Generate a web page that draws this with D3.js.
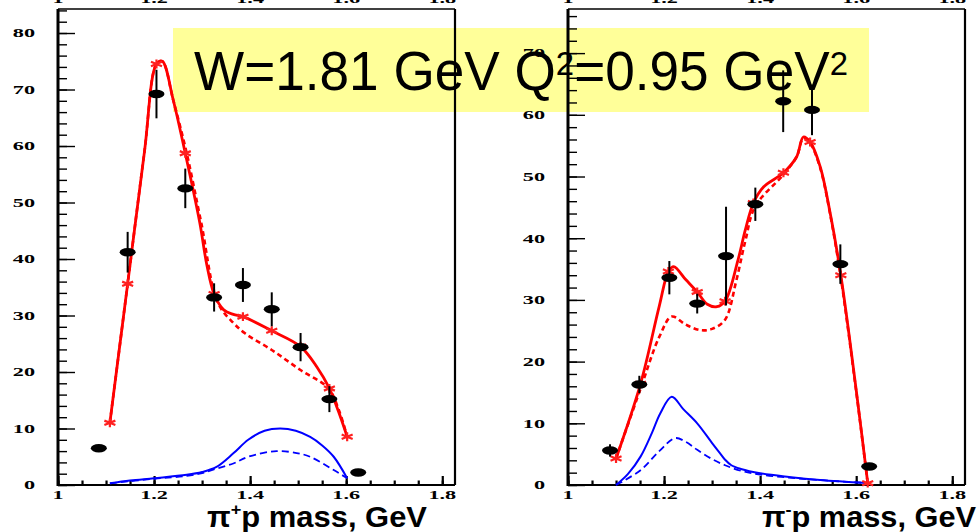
<!DOCTYPE html>
<html><head><meta charset="utf-8">
<script src="https://cdn.jsdelivr.net/npm/d3@7"></script>
<style>body{margin:0;background:#fff}svg{display:block}</style>
</head><body><svg id="c" width="977" height="532"></svg>
<script>
// ---------- tick labels ----------
const xTickValues = [1, 1.2, 1.4, 1.6, 1.8];
const xTickLabels = ["1", "1.2", "1.4", "1.6", "1.8"];
const yTicksLeft = [0, 10, 20, 30, 40, 50, 60, 70, 80];
const yTicksRight = [0, 10, 20, 30, 40, 50, 60, 70];
const titleText = ["W=1.81 GeV Q", "2", "=0.95 GeV", "2"];

// ---------- left panel: pi+ p ----------
const massL = [1.085, 1.145, 1.205, 1.265, 1.325, 1.385, 1.445, 1.505, 1.565, 1.625];
const dataL = [6.5, 41.2, 69.2, 52.5, 33.2, 35.4, 31.1, 24.4, 15.2, 2.2];
const errL = [0.5, 3.6, 4.3, 3.5, 2.5, 3.0, 3.0, 2.5, 2.3, 0.4];
const starMassL = [1.108, 1.145, 1.205, 1.265, 1.325, 1.385, 1.445, 1.505, 1.565, 1.602];
const starL = [11.0, 35.6, 74.5, 58.7, 33.8, 29.8, 27.3, 24.5, 17.1, 8.55];
const redSolidMassL = [1.108, 1.145, 1.18, 1.205, 1.217, 1.24, 1.265, 1.295, 1.31, 1.325, 1.345, 1.365, 1.385, 1.445, 1.505, 1.539, 1.565, 1.584, 1.602];
const redSolidL = [11.0, 35.6, 59, 74.5, 75.0, 68.1, 58.7, 46.5, 38.9, 33.8, 31.0, 30.2, 29.8, 27.3, 24.5, 20.9, 17.1, 13.0, 8.55];
const redDashMassL = [1.108, 1.145, 1.18, 1.205, 1.217, 1.24, 1.268, 1.298, 1.333, 1.365, 1.39, 1.445, 1.504, 1.563, 1.585, 1.602];
const redDashL = [11.0, 35.6, 59, 74.5, 75.0, 68.1, 58.7, 46.5, 32.2, 28.7, 26.8, 23.9, 20.4, 17.1, 13.2, 8.55];
const blueSolidMassL = [1.108, 1.15, 1.2, 1.268, 1.3, 1.33, 1.365, 1.396, 1.43, 1.4625, 1.495, 1.525, 1.55, 1.574, 1.602];
const blueSolidL = [0.3, 0.8, 1.2, 1.8, 2.3, 3.2, 5.6, 8.0, 9.6, 10.0, 9.6, 8.5, 7.0, 5.0, 1.2];
const blueDashMassL = [1.108, 1.2, 1.268, 1.3, 1.33, 1.365, 1.396, 1.455, 1.5, 1.525, 1.574, 1.602];
const blueDashL = [0.3, 1.1, 1.6, 2.1, 2.9, 3.8, 5.0, 6.0, 5.6, 5.0, 2.65, 1.2];

// ---------- right panel: pi- p ----------
const massR = [1.0875, 1.1485, 1.211, 1.269, 1.329, 1.390, 1.448, 1.508, 1.567, 1.627];
const dataR = [5.6, 16.3, 33.6, 29.4, 37.1, 45.5, 62.2, 60.8, 35.8, 3.0];
const errR = [1.0, 1.4, 2.7, 1.6, 8.0, 2.7, 5.0, 4.1, 3.2, 0.4];
const starMassR = [1.1, 1.151, 1.209, 1.269, 1.327, 1.386, 1.4485, 1.504, 1.568, 1.624];
const starR = [4.3, 16.4, 34.6, 31.3, 29.8, 45.7, 50.6, 55.6, 34.0, 0.3];
const redSolidMassR = [1.1, 1.151, 1.19, 1.209, 1.22, 1.245, 1.269, 1.29, 1.31, 1.327, 1.354, 1.369, 1.386, 1.407, 1.4485, 1.476, 1.49, 1.504, 1.525, 1.546, 1.568, 1.6, 1.624];
const redSolidR = [4.3, 16.4, 29, 34.6, 35.4, 33.3, 31.3, 29.3, 28.9, 29.8, 36.5, 41.3, 45.7, 48.3, 50.6, 53.2, 56.4, 55.6, 51.6, 44.0, 34.0, 15.4, 0.3];
const redDashMassR = [1.1, 1.151, 1.19, 1.216, 1.245, 1.275, 1.30, 1.327, 1.35, 1.369, 1.39, 1.4485, 1.476, 1.49, 1.504, 1.525, 1.546, 1.568, 1.6, 1.624];
const redDashR = [4.3, 15.6, 24, 27.3, 26.0, 25.1, 25.3, 26.8, 33, 39.5, 45.2, 50.3, 53.2, 56.2, 55.4, 51.4, 43.8, 33.6, 15.2, 0.3];
const blueSolidMassR = [1.1, 1.125, 1.151, 1.175, 1.192, 1.216, 1.24, 1.269, 1.30, 1.317, 1.327, 1.34, 1.36, 1.40, 1.46, 1.525, 1.624];
const blueSolidR = [0, 1.8, 4.6, 8.5, 11.6, 14.3, 12.3, 10.0, 6.8, 5.1, 4.1, 3.2, 2.6, 1.9, 1.3, 0.8, 0.3];
const blueDashMassR = [1.1, 1.151, 1.19, 1.223, 1.245, 1.269, 1.30, 1.327, 1.36, 1.40, 1.46, 1.525, 1.624];
const blueDashR = [0, 2.4, 5.5, 7.6, 7.0, 5.7, 4.2, 3.2, 2.3, 1.7, 1.2, 0.8, 0.3];

const svg = d3.select("#c");
const serif = "'Liberation Serif','Times New Roman',serif";
const sans = "'Liberation Sans',Arial,Helvetica,sans-serif";
const STRETCH = 1.85;

// ---------- title box (drawn beneath panels) ----------
svg.append("rect").attr("x", 173).attr("y", 28).attr("width", 696).attr("height", 84).attr("fill", "#ffff99");
const tt = svg.append("text").attr("x", 194).attr("y", 90)
  .attr("font-family", sans).attr("font-size", 55).attr("fill", "#000")
  .attr("textLength", 654).attr("lengthAdjust", "spacingAndGlyphs");
tt.append("tspan").text(titleText[0]);
tt.append("tspan").attr("font-size", 34).attr("dy", -15).text(titleText[1]);
tt.append("tspan").attr("dy", 15).text(titleText[2]);
tt.append("tspan").attr("font-size", 34).attr("dy", -15).text(titleText[3]);

function panel(cfg) {
  const x = d3.scaleLinear().domain([1, 1.8265]).range([cfg.x0, cfg.x0 + 397]);
  const y = d3.scaleLinear().domain([0, cfg.ymax]).range([485, 9]);
  const g = svg.append("g");

  // frame
  g.append("line").attr("x1", x.range()[0]).attr("x2", x.range()[1]).attr("y1", 9).attr("y2", 9).attr("stroke", "#000").attr("stroke-width", 1.4);
  g.append("line").attr("x1", x.range()[1]).attr("x2", x.range()[1]).attr("y1", 9).attr("y2", 485).attr("stroke", "#000").attr("stroke-width", 2.2);

  // x axis ticks (inward)
  const minorX = d3.range(1, 1.8201, 0.05);
  const axB1 = d3.axisBottom(x).tickValues(minorX).tickSize(-4.5).tickFormat("");
  const axB2 = d3.axisBottom(x).tickValues(xTickValues).tickSize(-9).tickFormat("");
  [axB1, axB2].forEach(a => {
    const ga = g.append("g").attr("transform", "translate(0,485)").call(a);
    ga.select(".domain").remove();
    ga.selectAll("line").attr("stroke", "#000").attr("stroke-width", 2.2);
  });
  g.append("line").attr("x1", x.range()[0]).attr("x2", x.range()[1]).attr("y1", 485).attr("y2", 485).attr("stroke", "#000").attr("stroke-width", 2);

  // y axis ticks (inward)
  const minorY = d3.range(0, cfg.ymax, 2);
  const axL1 = d3.axisRight(y).tickValues(minorY).tickSize(9).tickFormat("");
  const axL2 = d3.axisRight(y).tickValues(cfg.yTicks).tickSize(17).tickFormat("");
  [axL1, axL2].forEach(a => {
    const ga = g.append("g").attr("transform", `translate(${cfg.x0},0)`).call(a);
    ga.select(".domain").remove();
    ga.selectAll("line").attr("stroke", "#000").attr("stroke-width", 1.4);
  });
  g.append("line").attr("x1", cfg.x0).attr("x2", cfg.x0).attr("y1", 9).attr("y2", 486).attr("stroke", "#000").attr("stroke-width", 3);

  // tick labels
  xTickValues.forEach((v, i) => {
    g.append("text").attr("transform", `translate(${x(v)},498.5) scale(${STRETCH},1)`)
      .attr("text-anchor", "middle").attr("font-family", serif).attr("font-weight", "bold")
      .attr("font-size", 12).text(xTickLabels[i]);
    // labels of the panel above, cut at the top edge (as in the reference)
    g.append("text").attr("transform", `translate(${x(v)},2.5) scale(${STRETCH},1)`)
      .attr("text-anchor", "middle").attr("font-family", serif).attr("font-weight", "bold")
      .attr("font-size", 12).text(xTickLabels[i]);
  });
  cfg.yTicks.forEach(v => {
    g.append("text").attr("transform", `translate(${cfg.x0 - 23},${y(v) + 4.3}) scale(${STRETCH},1)`)
      .attr("text-anchor", "end").attr("font-family", serif).attr("font-weight", "bold")
      .attr("font-size", 12).text(String(v));
  });

  // x title
  const xt = g.append("text").attr("x", cfg.titleX).attr("y", 527)
    .attr("font-family", sans).attr("font-weight", "bold").attr("font-size", 29)
    .attr("textLength", cfg.titleLen).attr("lengthAdjust", "spacingAndGlyphs");
  xt.append("tspan").text("π");
  xt.append("tspan").attr("font-size", 17).attr("dy", -12).text(cfg.sign);
  xt.append("tspan").attr("dy", 12).text("p mass, GeV");

  const mk = (mass, vals) => mass.map((m, i) => [m, vals[i]]);
  const line = d3.line().x(d => x(d[0])).y(d => y(d[1])).curve(d3.curveCatmullRom.alpha(0.5));

  // blue curves
  g.append("path").attr("d", line(mk(cfg.bdM, cfg.bd))).attr("fill", "none").attr("stroke", "#0000ff").attr("stroke-width", 1.8).attr("stroke-dasharray", "7,4");
  g.append("path").attr("d", line(mk(cfg.bsM, cfg.bs))).attr("fill", "none").attr("stroke", "#0000ff").attr("stroke-width", 2);
  // red curves
  g.append("path").attr("d", line(mk(cfg.rdM, cfg.rd))).attr("fill", "none").attr("stroke", "#ff0000").attr("stroke-width", 2.6).attr("stroke-dasharray", "5,3.5");
  g.append("path").attr("d", line(mk(cfg.rsM, cfg.rs))).attr("fill", "none").attr("stroke", "#ff0000").attr("stroke-width", 2.8);

  // stars
  const sym = d3.symbol().type(d3.symbolAsterisk).size(62);
  g.selectAll(null).data(mk(cfg.sM, cfg.s)).join("path")
    .attr("d", sym()).attr("transform", d => `translate(${x(d[0])},${y(d[1])}) scale(1.35,0.95)`)
    .attr("fill", "none").attr("stroke", "#ff2020").attr("stroke-width", 2.2).attr("vector-effect", "non-scaling-stroke");

  // data points
  const pts = cfg.dM.map((m, i) => ({m, v: cfg.d[i], e: cfg.e[i]}));
  g.selectAll(null).data(pts).join("line")
    .attr("x1", d => x(d.m)).attr("x2", d => x(d.m))
    .attr("y1", d => y(d.v + d.e)).attr("y2", d => y(d.v - d.e))
    .attr("stroke", "#000").attr("stroke-width", 2);
  g.selectAll(null).data(pts).join("ellipse")
    .attr("cx", d => x(d.m)).attr("cy", d => y(d.v)).attr("rx", 8).attr("ry", 4.2).attr("fill", "#000");
}

panel({x0: 58, ymax: 84.25, yTicks: yTicksLeft, titleX: 207, titleLen: 220, sign: "+",
  dM: massL, d: dataL, e: errL, sM: starMassL, s: starL,
  rsM: redSolidMassL, rs: redSolidL, rdM: redDashMassL, rd: redDashL,
  bsM: blueSolidMassL, bs: blueSolidL, bdM: blueDashMassL, bd: blueDashL});
panel({x0: 568, ymax: 77.15, yTicks: yTicksRight, titleX: 762, titleLen: 214, sign: "-",
  dM: massR, d: dataR, e: errR, sM: starMassR, s: starR,
  rsM: redSolidMassR, rs: redSolidR, rdM: redDashMassR, rd: redDashR,
  bsM: blueSolidMassR, bs: blueSolidR, bdM: blueDashMassR, bd: blueDashR});
</script></body></html>
